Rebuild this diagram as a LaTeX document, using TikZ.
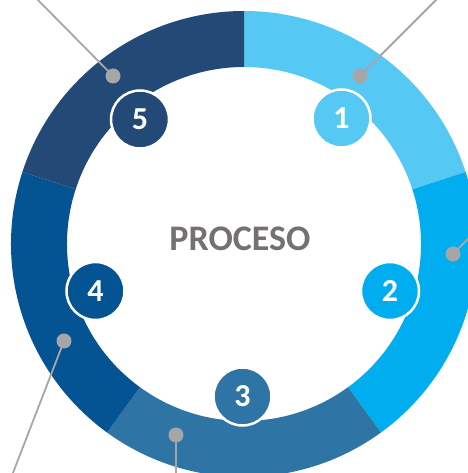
\documentclass[tikz,border=0pt]{standalone}
\usepackage{fontspec}
\setmainfont{Carlito}
\usetikzlibrary{calc}
\definecolor{cA}{HTML}{56C8F4}
\definecolor{cB}{HTML}{00AEEF}
\definecolor{cC}{HTML}{2E75A5}
\definecolor{cD}{HTML}{045393}
\definecolor{cE}{HTML}{234A77}
\definecolor{dotgray}{HTML}{A6A6A8}
\definecolor{txtgray}{HTML}{767171}
\pgfdeclarelayer{ringlayer}
\pgfdeclarelayer{linelayer}
\pgfsetlayers{ringlayer,linelayer,main}
\tikzset{
  numcircle/.style={circle, draw=white, line width=2.5pt, minimum size=58pt, inner sep=0pt,
    text=white, font=\bfseries\fontsize{32}{32}\selectfont},
  leader/.style={draw=dotgray, line width=1.8pt},
  dotmark/.style={circle, fill=dotgray, minimum size=15pt, inner sep=0pt},
}
\begin{document}
\begin{tikzpicture}[x=1pt,y=1pt]
\useasboundingbox (0,0) rectangle (467,473);
\clip (0,0) rectangle (467,473);
\coordinate (O) at (244,229);
% ring segments
\begin{pgfonlayer}{ringlayer}
\foreach \a/\b/\c in {18/90/cA, -54/18/cB, -126/-54/cC, 162/234/cD, 90/162/cE}{
  \fill[\c] ($(O)+(\a:233pt)$) arc[start angle=\a, end angle=\b, radius=233pt]
     -- ($(O)+(\b:177pt)$) arc[start angle=\b, end angle=\a, radius=177pt] -- cycle;
}
\end{pgfonlayer}
% dots
\node[dotmark] (d1) at (360,397) {};
\node[dotmark] (d2) at (453,219) {};
\node[dotmark] (d3) at (176,38) {};
\node[dotmark] (d4) at (64,132) {};
\node[dotmark] (d5) at (113,397) {};
\coordinate (e1) at (440,477);
\coordinate (e2) at (475,241);
\coordinate (e3) at (176,-5);
\coordinate (e4) at (11,-5);
\coordinate (e5) at (34,477);
\begin{pgfonlayer}{linelayer}
\draw[leader] (d1.center) -- (e1);
\draw[leader] (d2.center) -- (e2);
\draw[leader] (d3.center) -- (e3);
\draw[leader] (d4.center) -- (e4);
\draw[leader] (d5.center) -- (e5);
\end{pgfonlayer}
% numbered circles
\node[numcircle, fill=cA] (n1) at (341.5,354.5) {1};
\node[numcircle, fill=cB] (n2) at (390,182) {2};
\node[numcircle, fill=cC] (n3) at (242.5,76.5) {3};
\node[numcircle, fill=cD] (n4) at (95.5,182) {4};
\node[numcircle, fill=cE] (n5) at (140,353.5) {5};
% title
\node[text=txtgray, font=\bfseries\fontsize{36}{36}\selectfont] (title) at (240,234) {PROCESO};
\end{tikzpicture}
\end{document}
